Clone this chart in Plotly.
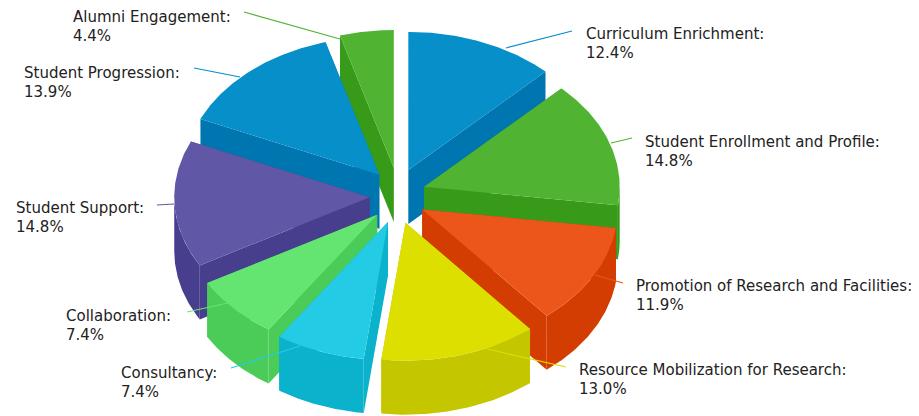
import numpy as np
import plotly.graph_objects as go

# ---- data ----
categories = ["Curriculum Enrichment", "Student Enrollment and Profile",
              "Promotion of Research and Facilities", "Resource Mobilization for Research",
              "Consultancy", "Collaboration", "Student Support",
              "Student Progression", "Alumni Engagement"]
values = [12.38, 14.77, 11.86, 12.96, 7.40, 7.40, 14.84, 13.94, 4.44]

# ---- styles ----
top_colors = ["#068FC9", "#50B432", "#ED561B", "#DDDF00", "#24CBE5", "#64E572", "#6058A6", "#068FC9", "#50B432"]
wall_colors = ["#0076B0", "#379B19", "#D43D02", "#C4C600", "#0BB2CC", "#4BCC59", "#473F8D", "#0076B0", "#379B19"]

# ---- layout (pixel space of the chart) ----
W, H = 919, 416
CX, CY = 397.7, 195.8
RX, RY = 195.5, 138.0
DEPTH = 54.0
EXPLODE = 28.0

label_x = [584, 643, 634, 577, 119, 64, 14, 22, 71]
label_y = [34, 142, 286, 370, 373, 316, 208, 73, 17]
line_out_x = [572, 632, 623, 566, 231, 187, 157, 194, 244]
line_out_y = [31, 138, 283, 367, 368, 312, 205, 68, 12]
line_in_x = [506, 611, 595, 487, 300, 228, 174, 240, 340]
line_in_y = [48, 143, 275, 349, 346, 303, 204, 77, 39]

fig = go.Figure()


def poly(xs, ys, color):
    fig.add_trace(go.Scatter(x=list(xs), y=list(ys), mode="lines", fill="toself",
                             fillcolor=color, line=dict(width=0, color=color),
                             hoverinfo="skip", showlegend=False))


total = sum(values)
edges = np.cumsum([0] + values) / total * 2 * np.pi
mids = (edges[:-1] + edges[1:]) / 2
order = sorted(range(len(values)), key=lambda i: -np.cos(mids[i]))

for i in order:
    a0, a1, m = edges[i], edges[i + 1], mids[i]
    ax_, ay_ = CX + EXPLODE * np.sin(m), CY - EXPLODE * np.cos(m)
    t = np.linspace(a0, a1, 80)
    arc_x = ax_ + RX * np.sin(t)
    arc_y = ay_ - RY * np.cos(t)
    # radial walls
    for a in (a0, a1):
        ex, ey = ax_ + RX * np.sin(a), ay_ - RY * np.cos(a)
        poly([ax_, ex, ex, ax_, ax_], [ay_, ey, ey + DEPTH, ay_ + DEPTH, ay_], wall_colors[i])
    # outer wall, front half only
    lo, hi = max(a0, np.pi / 2), min(a1, 1.5 * np.pi)
    if hi > lo:
        s = np.linspace(lo, hi, 80)
        ox = ax_ + RX * np.sin(s)
        oy = ay_ - RY * np.cos(s)
        poly(np.r_[ox, ox[::-1], ox[0]], np.r_[oy, oy[::-1] + DEPTH, oy[0]], wall_colors[i])
    # top face
    poly(np.r_[ax_, arc_x, ax_], np.r_[ay_, arc_y, ay_], top_colors[i])

# leader lines and labels
annotations = []
for i, name in enumerate(categories):
    fig.add_trace(go.Scatter(x=[line_out_x[i], line_in_x[i]], y=[line_out_y[i], line_in_y[i]],
                             mode="lines", line=dict(color=top_colors[i], width=1.2),
                             hoverinfo="skip", showlegend=False))
    annotations.append(dict(x=label_x[i], y=label_y[i], xref="x", yref="y", xanchor="left",
                            yanchor="middle", showarrow=False, align="left", text=f"{name}:",
                            font=dict(family="DejaVu Sans", size=15, color="#222222")))
    annotations.append(dict(x=label_x[i], y=label_y[i] + 19, xref="x", yref="y", xanchor="left",
                            yanchor="middle", showarrow=False, align="left", text=f"{values[i]:.1f}%",
                            font=dict(family="DejaVu Sans", size=15, color="#222222")))

fig.update_layout(width=W, height=H, margin=dict(l=0, r=0, t=0, b=0),
                  paper_bgcolor="white", plot_bgcolor="white", showlegend=False,
                  annotations=annotations,
                  xaxis=dict(range=[0, W], visible=False, fixedrange=True),
                  yaxis=dict(range=[H, 0], visible=False, fixedrange=True))

fig.write_html("out.html", config={"displayModeBar": False},
               post_script="document.body.style.margin='0';document.documentElement.style.overflow='hidden';")
